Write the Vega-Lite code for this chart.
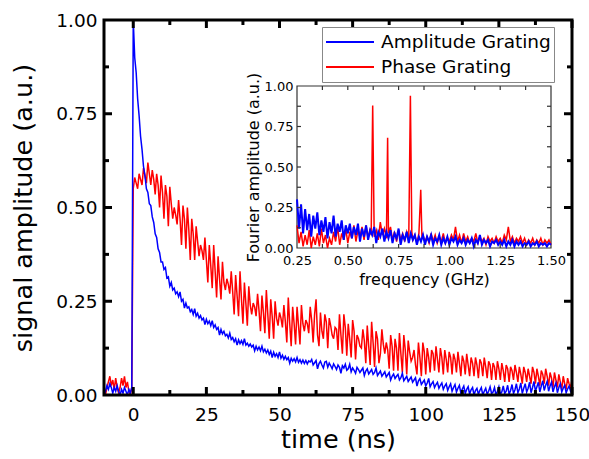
{
"$schema":"https://vega.github.io/schema/vega-lite/v6.json",
"autosize":"none",
"width":468,"height":375,
"padding":{"left":104,"top":20,"right":17,"bottom":64},
"background":"white",
"config":{"view":{"stroke":null},"font":"DejaVu Sans",
"axis":{"labelFont":"DejaVu Sans","titleFont":"DejaVu Sans","labelColor":"black","titleColor":"black","titleFontWeight":"normal","grid":false,"domain":false,"ticks":false,"labelFlush":false,"labelOverlap":false},
"tick":{"color":"black","opacity":1}},
"datasets":{
"xmaj":[{"v":0},{"v":25},{"v":50},{"v":75},{"v":100},{"v":125},{"v":150}],
"xmin":[{"v":12.5},{"v":37.5},{"v":62.5},{"v":87.5},{"v":112.5},{"v":137.5}],
"ymaj":[{"v":0.25},{"v":0.5},{"v":0.75}],
"ymin":[{"v":0.125},{"v":0.375},{"v":0.625},{"v":0.875}],
"fx":[{"v":0.375},{"v":0.5},{"v":0.625},{"v":0.75},{"v":0.875},{"v":1},{"v":1.125},{"v":1.25},{"v":1.375}],
"fy":[{"v":0.125},{"v":0.25},{"v":0.375},{"v":0.5},{"v":0.625},{"v":0.75},{"v":0.875}],
"main":[
{"t":-10,"a":0,"p":0.01},{"t":-9.5,"a":0.01,"p":0},{"t":-9,"a":0.025,"p":0.02},{"t":-8.5,"a":0.015,"p":0.035},{"t":-8,"a":0.03,"p":0.05},{"t":-7.5,"a":0.02,"p":0.025},{"t":-7,"a":0.005,"p":0.04},{"t":-6.5,"a":0.02,"p":0.015},{"t":-6,"a":0.01,"p":0.045},{"t":-5.5,"a":0.025,"p":0.02},{"t":-5,"a":0.01,"p":0.005},{"t":-4.5,"a":0,"p":0.02},{"t":-4,"a":0.015,"p":0.045},{"t":-3.5,"a":0.005,"p":0.025},{"t":-3,"a":0.02,"p":0.05},{"t":-2.5,"a":0.01,"p":0.02},{"t":-2,"a":0,"p":0.035},{"t":-1.5,"a":0.015,"p":0.01},{"t":-1,"a":0.005,"p":0},{"t":-0.5,"a":0.02,"p":0.02},
{"t":0,"a":1.0,"p":0.55},{"t":0.5,"a":0.9,"p":0.58},{"t":1,"a":0.86,"p":0.565},{"t":1.5,"a":0.79,"p":0.55},{"t":2,"a":0.745,"p":0.59},{"t":2.5,"a":0.69,"p":0.575},{"t":3,"a":0.655,"p":0.56},{"t":3.5,"a":0.61,"p":0.605},{"t":4,"a":0.585,"p":0.585},{"t":4.5,"a":0.55,"p":0.565},{"t":5,"a":0.54,"p":0.62},{"t":5.5,"a":0.51,"p":0.59},{"t":6,"a":0.505,"p":0.56},{"t":6.5,"a":0.475,"p":0.6},{"t":7,"a":0.46,"p":0.575},{"t":7.5,"a":0.43,"p":0.535},{"t":8,"a":0.42,"p":0.59},{"t":8.5,"a":0.39,"p":0.56},{"t":9,"a":0.38,"p":0.5},{"t":9.5,"a":0.355,"p":0.585},
{"t":10,"a":0.355,"p":0.54},{"t":10.5,"a":0.335,"p":0.47},{"t":11,"a":0.34,"p":0.56},{"t":11.5,"a":0.312,"p":0.53},{"t":12,"a":0.315,"p":0.45},{"t":12.5,"a":0.29,"p":0.555},{"t":13,"a":0.3,"p":0.51},{"t":13.5,"a":0.28,"p":0.47},{"t":14,"a":0.285,"p":0.5},{"t":14.5,"a":0.27,"p":0.48},{"t":15,"a":0.275,"p":0.455},{"t":15.5,"a":0.262,"p":0.52},{"t":16,"a":0.275,"p":0.47},{"t":16.5,"a":0.25,"p":0.4},{"t":17,"a":0.255,"p":0.505},{"t":17.5,"a":0.232,"p":0.47},{"t":18,"a":0.245,"p":0.39},{"t":18.5,"a":0.232,"p":0.5},{"t":19,"a":0.235,"p":0.44},{"t":19.5,"a":0.222,"p":0.36},
{"t":20,"a":0.228,"p":0.47},{"t":20.5,"a":0.215,"p":0.43},{"t":21,"a":0.23,"p":0.36},{"t":21.5,"a":0.21,"p":0.45},{"t":22,"a":0.218,"p":0.41},{"t":22.5,"a":0.205,"p":0.37},{"t":23,"a":0.212,"p":0.4},{"t":23.5,"a":0.2,"p":0.385},{"t":24,"a":0.205,"p":0.36},{"t":24.5,"a":0.188,"p":0.42},{"t":25,"a":0.202,"p":0.36},{"t":25.5,"a":0.19,"p":0.3},{"t":26,"a":0.197,"p":0.4},{"t":26.5,"a":0.185,"p":0.345},{"t":27,"a":0.198,"p":0.285},{"t":27.5,"a":0.18,"p":0.4},{"t":28,"a":0.187,"p":0.33},{"t":28.5,"a":0.175,"p":0.26},{"t":29,"a":0.18,"p":0.37},{"t":29.5,"a":0.16,"p":0.31},
{"t":30,"a":0.175,"p":0.255},{"t":30.5,"a":0.163,"p":0.355},{"t":31,"a":0.17,"p":0.3},{"t":31.5,"a":0.158,"p":0.28},{"t":32,"a":0.162,"p":0.31},{"t":32.5,"a":0.152,"p":0.295},{"t":33,"a":0.165,"p":0.27},{"t":33.5,"a":0.148,"p":0.33},{"t":34,"a":0.153,"p":0.275},{"t":34.5,"a":0.142,"p":0.215},{"t":35,"a":0.15,"p":0.32},{"t":35.5,"a":0.133,"p":0.265},{"t":36,"a":0.147,"p":0.21},{"t":36.5,"a":0.137,"p":0.33},{"t":37,"a":0.145,"p":0.255},{"t":37.5,"a":0.135,"p":0.19},{"t":38,"a":0.15,"p":0.3},{"t":38.5,"a":0.133,"p":0.245},{"t":39,"a":0.138,"p":0.185},{"t":39.5,"a":0.13,"p":0.29},
{"t":40,"a":0.136,"p":0.24},{"t":40.5,"a":0.128,"p":0.215},{"t":41,"a":0.133,"p":0.245},{"t":41.5,"a":0.118,"p":0.235},{"t":42,"a":0.13,"p":0.21},{"t":42.5,"a":0.12,"p":0.27},{"t":43,"a":0.128,"p":0.225},{"t":43.5,"a":0.118,"p":0.17},{"t":44,"a":0.13,"p":0.265},{"t":44.5,"a":0.115,"p":0.22},{"t":45,"a":0.122,"p":0.165},{"t":45.5,"a":0.112,"p":0.28},{"t":46,"a":0.12,"p":0.215},{"t":46.5,"a":0.108,"p":0.15},{"t":47,"a":0.117,"p":0.255},{"t":47.5,"a":0.1,"p":0.21},{"t":48,"a":0.114,"p":0.15},{"t":48.5,"a":0.103,"p":0.25},{"t":49,"a":0.11,"p":0.205},{"t":49.5,"a":0.1,"p":0.185},
{"t":50,"a":0.115,"p":0.22},{"t":50.5,"a":0.098,"p":0.205},{"t":51,"a":0.106,"p":0.18},{"t":51.5,"a":0.095,"p":0.24},{"t":52,"a":0.103,"p":0.195},{"t":52.5,"a":0.094,"p":0.14},{"t":53,"a":0.1,"p":0.26},{"t":53.5,"a":0.085,"p":0.19},{"t":54,"a":0.098,"p":0.13},{"t":54.5,"a":0.09,"p":0.235},{"t":55,"a":0.097,"p":0.19},{"t":55.5,"a":0.088,"p":0.135},{"t":56,"a":0.1,"p":0.235},{"t":56.5,"a":0.087,"p":0.185},{"t":57,"a":0.094,"p":0.135},{"t":57.5,"a":0.085,"p":0.24},{"t":58,"a":0.093,"p":0.19},{"t":58.5,"a":0.084,"p":0.17},{"t":59,"a":0.092,"p":0.2},{"t":59.5,"a":0.083,"p":0.19},
{"t":60,"a":0.091,"p":0.165},{"t":60.5,"a":0.088,"p":0.235},{"t":61,"a":0.095,"p":0.2},{"t":61.5,"a":0.08,"p":0.14},{"t":62,"a":0.086,"p":0.215},{"t":62.5,"a":0.092,"p":0.255},{"t":63,"a":0.07,"p":0.16},{"t":63.5,"a":0.084,"p":0.13},{"t":64,"a":0.09,"p":0.22},{"t":64.5,"a":0.08,"p":0.17},{"t":65,"a":0.072,"p":0.15},{"t":65.5,"a":0.088,"p":0.215},{"t":66,"a":0.09,"p":0.195},{"t":66.5,"a":0.074,"p":0.125},{"t":67,"a":0.085,"p":0.205},{"t":67.5,"a":0.078,"p":0.185},{"t":68,"a":0.07,"p":0.16},{"t":68.5,"a":0.083,"p":0.15},{"t":69,"a":0.076,"p":0.18},{"t":69.5,"a":0.068,"p":0.175},
{"t":70,"a":0.08,"p":0.12},{"t":70.5,"a":0.074,"p":0.215},{"t":71,"a":0.058,"p":0.16},{"t":71.5,"a":0.078,"p":0.11},{"t":72,"a":0.072,"p":0.215},{"t":72.5,"a":0.082,"p":0.18},{"t":73,"a":0.066,"p":0.105},{"t":73.5,"a":0.07,"p":0.19},{"t":74,"a":0.082,"p":0.15},{"t":74.5,"a":0.062,"p":0.1},{"t":75,"a":0.072,"p":0.2},{"t":75.5,"a":0.066,"p":0.17},{"t":76,"a":0.058,"p":0.095},{"t":76.5,"a":0.074,"p":0.16},{"t":77,"a":0.068,"p":0.15},{"t":77.5,"a":0.06,"p":0.13},{"t":78,"a":0.066,"p":0.125},{"t":78.5,"a":0.072,"p":0.175},{"t":79,"a":0.052,"p":0.145},{"t":79.5,"a":0.064,"p":0.085},
{"t":80,"a":0.07,"p":0.185},{"t":80.5,"a":0.056,"p":0.13},{"t":81,"a":0.062,"p":0.08},{"t":81.5,"a":0.068,"p":0.195},{"t":82,"a":0.055,"p":0.14},{"t":82.5,"a":0.06,"p":0.075},{"t":83,"a":0.072,"p":0.17},{"t":83.5,"a":0.052,"p":0.15},{"t":84,"a":0.058,"p":0.085},{"t":84.5,"a":0.064,"p":0.11},{"t":85,"a":0.05,"p":0.175},{"t":85.5,"a":0.056,"p":0.135},{"t":86,"a":0.062,"p":0.11},{"t":86.5,"a":0.048,"p":0.14},{"t":87,"a":0.054,"p":0.12},{"t":87.5,"a":0.06,"p":0.07},{"t":88,"a":0.04,"p":0.16},{"t":88.5,"a":0.05,"p":0.13},{"t":89,"a":0.056,"p":0.065},{"t":89.5,"a":0.044,"p":0.15},
{"t":90,"a":0.05,"p":0.125},{"t":90.5,"a":0.055,"p":0.065},{"t":91,"a":0.04,"p":0.165},{"t":91.5,"a":0.046,"p":0.11},{"t":92,"a":0.058,"p":0.06},{"t":92.5,"a":0.038,"p":0.16},{"t":93,"a":0.044,"p":0.12},{"t":93.5,"a":0.05,"p":0.055},{"t":94,"a":0.036,"p":0.145},{"t":94.5,"a":0.042,"p":0.115},{"t":95,"a":0.048,"p":0.09},{"t":95.5,"a":0.034,"p":0.1},{"t":96,"a":0.04,"p":0.12},{"t":96.5,"a":0.046,"p":0.08},{"t":97,"a":0.024,"p":0.055},{"t":97.5,"a":0.038,"p":0.14},{"t":98,"a":0.044,"p":0.1},{"t":98.5,"a":0.028,"p":0.05},{"t":99,"a":0.034,"p":0.14},{"t":99.5,"a":0.04,"p":0.115},
{"t":100,"a":0.024,"p":0.055},{"t":100.5,"a":0.032,"p":0.125},{"t":101,"a":0.044,"p":0.1},{"t":101.5,"a":0.022,"p":0.06},{"t":102,"a":0.03,"p":0.12},{"t":102.5,"a":0.036,"p":0.11},{"t":103,"a":0.02,"p":0.065},{"t":103.5,"a":0.028,"p":0.13},{"t":104,"a":0.034,"p":0.095},{"t":104.5,"a":0.018,"p":0.06},{"t":105,"a":0.026,"p":0.125},{"t":105.5,"a":0.032,"p":0.1},{"t":106,"a":0.015,"p":0.055},{"t":106.5,"a":0.024,"p":0.12},{"t":107,"a":0.03,"p":0.095},{"t":107.5,"a":0.012,"p":0.06},{"t":108,"a":0.022,"p":0.115},{"t":108.5,"a":0.03,"p":0.1},{"t":109,"a":0.01,"p":0.055},{"t":109.5,"a":0.02,"p":0.11},
{"t":110,"a":0.028,"p":0.095},{"t":110.5,"a":0.008,"p":0.06},{"t":111,"a":0.018,"p":0.115},{"t":111.5,"a":0.026,"p":0.085},{"t":112,"a":0.005,"p":0.05},{"t":112.5,"a":0.016,"p":0.105},{"t":113,"a":0.024,"p":0.09},{"t":113.5,"a":0.004,"p":0.055},{"t":114,"a":0.015,"p":0.11},{"t":114.5,"a":0.022,"p":0.08},{"t":115,"a":0.002,"p":0.05},{"t":115.5,"a":0.014,"p":0.1},{"t":116,"a":0.02,"p":0.085},{"t":116.5,"a":0,"p":0.05},{"t":117,"a":0.012,"p":0.1},{"t":117.5,"a":0.018,"p":0.08},{"t":118,"a":0.002,"p":0.045},{"t":118.5,"a":0.012,"p":0.095},{"t":119,"a":0.02,"p":0.085},{"t":119.5,"a":0,"p":0.05},
{"t":120,"a":0.01,"p":0.1},{"t":120.5,"a":0.018,"p":0.075},{"t":121,"a":0.002,"p":0.045},{"t":121.5,"a":0.01,"p":0.09},{"t":122,"a":0.022,"p":0.08},{"t":122.5,"a":0.004,"p":0.04},{"t":123,"a":0.008,"p":0.085},{"t":123.5,"a":0.02,"p":0.075},{"t":124,"a":0,"p":0.04},{"t":124.5,"a":0.01,"p":0.09},{"t":125,"a":0.022,"p":0.07},{"t":125.5,"a":0.002,"p":0.04},{"t":126,"a":0.008,"p":0.085},{"t":126.5,"a":0.024,"p":0.065},{"t":127,"a":0.004,"p":0.035},{"t":127.5,"a":0.01,"p":0.08},{"t":128,"a":0.026,"p":0.07},{"t":128.5,"a":0.002,"p":0.035},{"t":129,"a":0.012,"p":0.075},{"t":129.5,"a":0.028,"p":0.065},
{"t":130,"a":0.004,"p":0.04},{"t":130.5,"a":0.014,"p":0.08},{"t":131,"a":0.03,"p":0.06},{"t":131.5,"a":0.006,"p":0.035},{"t":132,"a":0.016,"p":0.075},{"t":132.5,"a":0.032,"p":0.055},{"t":133,"a":0.004,"p":0.03},{"t":133.5,"a":0.018,"p":0.075},{"t":134,"a":0.03,"p":0.06},{"t":134.5,"a":0.008,"p":0.035},{"t":135,"a":0.018,"p":0.07},{"t":135.5,"a":0.034,"p":0.05},{"t":136,"a":0.006,"p":0.03},{"t":136.5,"a":0.02,"p":0.075},{"t":137,"a":0.036,"p":0.06},{"t":137.5,"a":0.01,"p":0.03},{"t":138,"a":0.022,"p":0.07},{"t":138.5,"a":0.034,"p":0.05},{"t":139,"a":0.008,"p":0.025},{"t":139.5,"a":0.024,"p":0.065},
{"t":140,"a":0.038,"p":0.055},{"t":140.5,"a":0.012,"p":0.03},{"t":141,"a":0.026,"p":0.07},{"t":141.5,"a":0.036,"p":0.05},{"t":142,"a":0.01,"p":0.025},{"t":142.5,"a":0.024,"p":0.06},{"t":143,"a":0.034,"p":0.045},{"t":143.5,"a":0.008,"p":0.02},{"t":144,"a":0.022,"p":0.06},{"t":144.5,"a":0.032,"p":0.04},{"t":145,"a":0.006,"p":0.02},{"t":145.5,"a":0.02,"p":0.055},{"t":146,"a":0.03,"p":0.035},{"t":146.5,"a":0.008,"p":0.015},{"t":147,"a":0.018,"p":0.05},{"t":147.5,"a":0.026,"p":0.03},{"t":148,"a":0.006,"p":0.015},{"t":148.5,"a":0.016,"p":0.045},{"t":149,"a":0.024,"p":0.03},{"t":149.5,"a":0.01,"p":0.02},{"t":150,"a":0.018,"p":0.04}
],
"ia":[
{"f":0.25,"v":0.3},{"f":0.26,"v":0.12},{"f":0.27,"v":0.27},{"f":0.28,"v":0.09},{"f":0.29,"v":0.24},{"f":0.3,"v":0.11},{"f":0.31,"v":0.21},{"f":0.32,"v":0.07},{"f":0.33,"v":0.2},{"f":0.34,"v":0.12},{"f":0.35,"v":0.22},{"f":0.36,"v":0.08},{"f":0.37,"v":0.17},{"f":0.38,"v":0.1},{"f":0.39,"v":0.19},{"f":0.4,"v":0.06},{"f":0.41,"v":0.16},{"f":0.42,"v":0.09},{"f":0.43,"v":0.2},{"f":0.44,"v":0.07},{"f":0.45,"v":0.15},{"f":0.46,"v":0.1},{"f":0.47,"v":0.17},{"f":0.48,"v":0.05},{"f":0.49,"v":0.14},{"f":0.5,"v":0.09},{"f":0.51,"v":0.15},{"f":0.52,"v":0.06},{"f":0.53,"v":0.13},{"f":0.54,"v":0.08},{"f":0.55,"v":0.15},{"f":0.56,"v":0.04},{"f":0.57,"v":0.12},{"f":0.58,"v":0.07},{"f":0.59,"v":0.14},{"f":0.6,"v":0.05},{"f":0.61,"v":0.11},{"f":0.62,"v":0.08},{"f":0.63,"v":0.13},{"f":0.64,"v":0.03},{"f":0.65,"v":0.1},{"f":0.66,"v":0.07},{"f":0.67,"v":0.12},{"f":0.68,"v":0.04},{"f":0.69,"v":0.1},{"f":0.7,"v":0.06},{"f":0.71,"v":0.11},{"f":0.72,"v":0.03},{"f":0.73,"v":0.09},{"f":0.74,"v":0.06},{"f":0.75,"v":0.12},{"f":0.76,"v":0.02},{"f":0.77,"v":0.08},{"f":0.78,"v":0.05},{"f":0.79,"v":0.1},{"f":0.8,"v":0.03},{"f":0.81,"v":0.09},{"f":0.82,"v":0.05},{"f":0.83,"v":0.08},{"f":0.84,"v":0.02},{"f":0.85,"v":0.07},{"f":0.86,"v":0.04},{"f":0.87,"v":0.08},{"f":0.88,"v":0.02},{"f":0.89,"v":0.07},{"f":0.9,"v":0.04},{"f":0.91,"v":0.08},{"f":0.92,"v":0.02},{"f":0.93,"v":0.06},{"f":0.94,"v":0.04},{"f":0.95,"v":0.08},{"f":0.96,"v":0.02},{"f":0.97,"v":0.06},{"f":0.98,"v":0.03},{"f":0.99,"v":0.07},{"f":1.0,"v":0.02},{"f":1.01,"v":0.06},{"f":1.02,"v":0.04},{"f":1.03,"v":0.07},{"f":1.04,"v":0.02},{"f":1.05,"v":0.05},{"f":1.06,"v":0.03},{"f":1.07,"v":0.06},{"f":1.08,"v":0.02},{"f":1.09,"v":0.05},{"f":1.1,"v":0.03},{"f":1.11,"v":0.06},{"f":1.12,"v":0.01},{"f":1.13,"v":0.05},{"f":1.14,"v":0.03},{"f":1.15,"v":0.08},{"f":1.16,"v":0.02},{"f":1.17,"v":0.05},{"f":1.18,"v":0.03},{"f":1.19,"v":0.05},{"f":1.2,"v":0.01},{"f":1.21,"v":0.04},{"f":1.22,"v":0.03},{"f":1.23,"v":0.05},{"f":1.24,"v":0.02},{"f":1.25,"v":0.04},{"f":1.26,"v":0.02},{"f":1.27,"v":0.05},{"f":1.28,"v":0.01},{"f":1.29,"v":0.04},{"f":1.3,"v":0.02},{"f":1.31,"v":0.05},{"f":1.32,"v":0.01},{"f":1.33,"v":0.04},{"f":1.34,"v":0.02},{"f":1.35,"v":0.04},{"f":1.36,"v":0.01},{"f":1.37,"v":0.03},{"f":1.38,"v":0.02},{"f":1.39,"v":0.04},{"f":1.4,"v":0.01},{"f":1.41,"v":0.03},{"f":1.42,"v":0.02},{"f":1.43,"v":0.04},{"f":1.44,"v":0.01},{"f":1.45,"v":0.03},{"f":1.46,"v":0.02},{"f":1.47,"v":0.03},{"f":1.48,"v":0.01},{"f":1.49,"v":0.03},{"f":1.5,"v":0.02}
],
"ip":[
{"f":0.25,"v":0.14},{"f":0.26,"v":0.03},{"f":0.27,"v":0.1},{"f":0.28,"v":0.01},{"f":0.29,"v":0.08},{"f":0.3,"v":0.02},{"f":0.31,"v":0.11},{"f":0.32,"v":0},{"f":0.33,"v":0.07},{"f":0.34,"v":0.02},{"f":0.35,"v":0.09},{"f":0.36,"v":0.01},{"f":0.37,"v":0.12},{"f":0.38,"v":0.03},{"f":0.39,"v":0.08},{"f":0.4,"v":0},{"f":0.41,"v":0.06},{"f":0.42,"v":0.02},{"f":0.43,"v":0.1},{"f":0.44,"v":0.04},{"f":0.45,"v":0.13},{"f":0.46,"v":0.02},{"f":0.47,"v":0.09},{"f":0.48,"v":0.05},{"f":0.49,"v":0.12},{"f":0.5,"v":0.03},{"f":0.51,"v":0.1},{"f":0.52,"v":0.06},{"f":0.53,"v":0.14},{"f":0.54,"v":0.04},{"f":0.55,"v":0.11},{"f":0.56,"v":0.07},{"f":0.57,"v":0.13},{"f":0.58,"v":0.05},{"f":0.59,"v":0.14},{"f":0.6,"v":0.06},{"f":0.61,"v":0.12},{"f":0.615,"v":0.08},{"f":0.6225,"v":0.88},{"f":0.63,"v":0.07},{"f":0.64,"v":0.11},{"f":0.65,"v":0.05},{"f":0.66,"v":0.16},{"f":0.67,"v":0.08},{"f":0.68,"v":0.12},{"f":0.69,"v":0.06},{"f":0.696,"v":0.68},{"f":0.7,"v":0.09},{"f":0.71,"v":0.13},{"f":0.72,"v":0.05},{"f":0.73,"v":0.1},{"f":0.74,"v":0.04},{"f":0.75,"v":0.11},{"f":0.76,"v":0.05},{"f":0.77,"v":0.09},{"f":0.78,"v":0.04},{"f":0.79,"v":0.1},{"f":0.8,"v":0.06},{"f":0.808,"v":0.94},{"f":0.815,"v":0.1},{"f":0.82,"v":0.05},{"f":0.83,"v":0.08},{"f":0.84,"v":0.03},{"f":0.85,"v":0.09},{"f":0.859,"v":0.36},{"f":0.865,"v":0.06},{"f":0.87,"v":0.08},{"f":0.88,"v":0.04},{"f":0.89,"v":0.07},{"f":0.9,"v":0.03},{"f":0.91,"v":0.09},{"f":0.92,"v":0.04},{"f":0.93,"v":0.08},{"f":0.94,"v":0.03},{"f":0.95,"v":0.07},{"f":0.96,"v":0.04},{"f":0.97,"v":0.09},{"f":0.98,"v":0.03},{"f":0.99,"v":0.06},{"f":1.0,"v":0.04},{"f":1.01,"v":0.08},{"f":1.02,"v":0.05},{"f":1.03,"v":0.13},{"f":1.04,"v":0.04},{"f":1.05,"v":0.08},{"f":1.06,"v":0.03},{"f":1.07,"v":0.09},{"f":1.08,"v":0.04},{"f":1.09,"v":0.07},{"f":1.1,"v":0.03},{"f":1.11,"v":0.06},{"f":1.12,"v":0.04},{"f":1.13,"v":0.09},{"f":1.14,"v":0.03},{"f":1.15,"v":0.07},{"f":1.16,"v":0.04},{"f":1.17,"v":0.06},{"f":1.18,"v":0.02},{"f":1.19,"v":0.07},{"f":1.2,"v":0.04},{"f":1.21,"v":0.06},{"f":1.22,"v":0.03},{"f":1.23,"v":0.07},{"f":1.24,"v":0.04},{"f":1.25,"v":0.06},{"f":1.26,"v":0.03},{"f":1.27,"v":0.08},{"f":1.28,"v":0.05},{"f":1.29,"v":0.13},{"f":1.3,"v":0.04},{"f":1.31,"v":0.07},{"f":1.32,"v":0.03},{"f":1.33,"v":0.06},{"f":1.34,"v":0.04},{"f":1.35,"v":0.07},{"f":1.36,"v":0.03},{"f":1.37,"v":0.06},{"f":1.38,"v":0.02},{"f":1.39,"v":0.05},{"f":1.4,"v":0.03},{"f":1.41,"v":0.06},{"f":1.42,"v":0.02},{"f":1.43,"v":0.05},{"f":1.44,"v":0.03},{"f":1.45,"v":0.06},{"f":1.46,"v":0.02},{"f":1.47,"v":0.05},{"f":1.48,"v":0.03},{"f":1.49,"v":0.05},{"f":1.5,"v":0.02}
]
},
"resolve":{"scale":{"x":"independent","y":"independent"}},
"layer":[
{"data":{"name":"main"},
 "mark":{"type":"line","strokeWidth":1.5,"clip":true},
 "encoding":{
  "x":{"field":"t","type":"quantitative","scale":{"domain":[-10,150],"nice":false,"zero":false},
   "axis":{"orient":"bottom","values":[0,25,50,75,100,125,150],"labelFontSize":18.5,"labelPadding":10,"title":"time (ns)","titleFontSize":25.5,"titlePadding":4}},
  "y":{"field":"p","type":"quantitative","scale":{"domain":[0,1],"nice":false},
   "axis":{"orient":"left","values":[0,0.25,0.5,0.75,1],"format":".2f","labelFontSize":18.5,"labelPadding":7,"title":"signal amplitude (a.u.)","titleFontSize":25.5,"titlePadding":19}},
  "color":{"datum":"Phase Grating","scale":{"domain":["Amplitude Grating","Phase Grating"],"range":["#0000ff","#ff0000"]},
   "legend":{"orient":"none","legendX":218,"legendY":7,"title":null,"symbolType":"stroke","symbolSize":2304,"symbolStrokeWidth":2,"labelFontSize":18.5,"labelFont":"DejaVu Sans","labelColor":"black","labelLimit":400,"clipHeight":24,"fillColor":"white","strokeColor":"#888888","padding":3,"rowPadding":1,"labelOffset":6}}
 }},
{"data":{"name":"main"},
 "mark":{"type":"line","strokeWidth":1.5,"clip":true},
 "encoding":{
  "x":{"field":"t","type":"quantitative","scale":{"domain":[-10,150],"nice":false,"zero":false},"axis":null},
  "y":{"field":"a","type":"quantitative","scale":{"domain":[0,1],"nice":false},"axis":null},
  "color":{"datum":"Amplitude Grating"}
 }},
{"data":{"values":[{}]},
 "mark":{"type":"rect","fill":null,"fillOpacity":0,"stroke":"black","strokeWidth":3},
 "encoding":{
  "x":{"datum":-10,"type":"quantitative","scale":{"domain":[-10,150],"nice":false,"zero":false},"axis":null},
  "x2":{"datum":150},
  "y":{"datum":0,"type":"quantitative","scale":{"domain":[0,1],"nice":false},"axis":null},
  "y2":{"datum":1}
 }},
{"data":{"name":"xmaj"},"mark":{"type":"tick","orient":"vertical","size":8,"thickness":3,"yOffset":-4,"color":"black"},
 "encoding":{"x":{"field":"v","type":"quantitative","scale":{"domain":[-10,150],"nice":false,"zero":false},"axis":null},
  "y":{"datum":0,"type":"quantitative","scale":{"domain":[0,1],"nice":false},"axis":null}}},
{"data":{"name":"xmin"},"mark":{"type":"tick","orient":"vertical","size":5,"thickness":3,"yOffset":-2.5,"color":"black"},
 "encoding":{"x":{"field":"v","type":"quantitative","scale":{"domain":[-10,150],"nice":false,"zero":false},"axis":null},
  "y":{"datum":0,"type":"quantitative","scale":{"domain":[0,1],"nice":false},"axis":null}}},
{"data":{"name":"xmaj"},"mark":{"type":"tick","orient":"vertical","size":8,"thickness":3,"yOffset":4,"color":"black"},
 "encoding":{"x":{"field":"v","type":"quantitative","scale":{"domain":[-10,150],"nice":false,"zero":false},"axis":null},
  "y":{"datum":1,"type":"quantitative","scale":{"domain":[0,1],"nice":false},"axis":null}}},
{"data":{"name":"xmin"},"mark":{"type":"tick","orient":"vertical","size":5,"thickness":3,"yOffset":2.5,"color":"black"},
 "encoding":{"x":{"field":"v","type":"quantitative","scale":{"domain":[-10,150],"nice":false,"zero":false},"axis":null},
  "y":{"datum":1,"type":"quantitative","scale":{"domain":[0,1],"nice":false},"axis":null}}},
{"data":{"name":"ymaj"},"mark":{"type":"tick","orient":"horizontal","size":8,"thickness":3,"xOffset":4,"color":"black"},
 "encoding":{"y":{"field":"v","type":"quantitative","scale":{"domain":[0,1],"nice":false},"axis":null},
  "x":{"datum":-10,"type":"quantitative","scale":{"domain":[-10,150],"nice":false,"zero":false},"axis":null}}},
{"data":{"name":"ymin"},"mark":{"type":"tick","orient":"horizontal","size":5,"thickness":3,"xOffset":2.5,"color":"black"},
 "encoding":{"y":{"field":"v","type":"quantitative","scale":{"domain":[0,1],"nice":false},"axis":null},
  "x":{"datum":-10,"type":"quantitative","scale":{"domain":[-10,150],"nice":false,"zero":false},"axis":null}}},
{"data":{"name":"ymaj"},"mark":{"type":"tick","orient":"horizontal","size":8,"thickness":3,"xOffset":-4,"color":"black"},
 "encoding":{"y":{"field":"v","type":"quantitative","scale":{"domain":[0,1],"nice":false},"axis":null},
  "x":{"datum":150,"type":"quantitative","scale":{"domain":[-10,150],"nice":false,"zero":false},"axis":null}}},
{"data":{"name":"ymin"},"mark":{"type":"tick","orient":"horizontal","size":5,"thickness":3,"xOffset":-2.5,"color":"black"},
 "encoding":{"y":{"field":"v","type":"quantitative","scale":{"domain":[0,1],"nice":false},"axis":null},
  "x":{"datum":150,"type":"quantitative","scale":{"domain":[-10,150],"nice":false,"zero":false},"axis":null}}},
{"data":{"values":[{}]},
 "mark":{"type":"rect","fill":"white","stroke":"#333333","strokeWidth":1.2},
 "encoding":{
  "x":{"datum":0.25,"type":"quantitative","scale":{"domain":[0.25,1.5],"range":[193,447],"nice":false,"zero":false},
   "axis":{"orient":"bottom","offset":-147,"values":[0.25,0.5,0.75,1,1.25,1.5],"format":".2f","labelFontSize":13,"labelPadding":6,"title":"frequency (GHz)","titleFontSize":16,"titlePadding":4}},
  "x2":{"datum":1.5},
  "y":{"datum":0,"type":"quantitative","scale":{"domain":[0,1],"range":[228,66],"nice":false},
   "axis":{"orient":"left","offset":-193,"values":[0,0.25,0.5,0.75,1],"format":".2f","labelFontSize":13,"labelPadding":4,"title":"Fourier amplitude (a.u.)","titleFontSize":16,"titlePadding":3}},
  "y2":{"datum":1}
 }},
{"data":{"name":"ip"},
 "mark":{"type":"line","strokeWidth":1.5,"clip":true},
 "encoding":{
  "x":{"field":"f","type":"quantitative","scale":{"domain":[0.25,1.5],"range":[193,447],"nice":false,"zero":false},"axis":null},
  "y":{"field":"v","type":"quantitative","scale":{"domain":[0,1],"range":[228,66],"nice":false},"axis":null},
  "color":{"datum":"Phase Grating"}
 }},
{"data":{"name":"ia"},
 "mark":{"type":"line","strokeWidth":2,"clip":true},
 "encoding":{
  "x":{"field":"f","type":"quantitative","scale":{"domain":[0.25,1.5],"range":[193,447],"nice":false,"zero":false},"axis":null},
  "y":{"field":"v","type":"quantitative","scale":{"domain":[0,1],"range":[228,66],"nice":false},"axis":null},
  "color":{"datum":"Amplitude Grating"}
 }},
{"data":{"name":"fx"},"mark":{"type":"tick","orient":"vertical","size":4,"thickness":1.2,"color":"#333333","yOffset":-2},
 "encoding":{"x":{"field":"v","type":"quantitative","scale":{"domain":[0.25,1.5],"range":[193,447],"nice":false,"zero":false},"axis":null},
  "y":{"datum":0,"type":"quantitative","scale":{"domain":[0,1],"range":[228,66],"nice":false},"axis":null}}},
{"data":{"name":"fx"},"mark":{"type":"tick","orient":"vertical","size":4,"thickness":1.2,"color":"#333333","yOffset":2},
 "encoding":{"x":{"field":"v","type":"quantitative","scale":{"domain":[0.25,1.5],"range":[193,447],"nice":false,"zero":false},"axis":null},
  "y":{"datum":1,"type":"quantitative","scale":{"domain":[0,1],"range":[228,66],"nice":false},"axis":null}}},
{"data":{"name":"fy"},"mark":{"type":"tick","orient":"horizontal","size":4,"thickness":1.2,"color":"#333333","xOffset":2},
 "encoding":{"y":{"field":"v","type":"quantitative","scale":{"domain":[0,1],"range":[228,66],"nice":false},"axis":null},
  "x":{"datum":0.25,"type":"quantitative","scale":{"domain":[0.25,1.5],"range":[193,447],"nice":false,"zero":false},"axis":null}}},
{"data":{"name":"fy"},"mark":{"type":"tick","orient":"horizontal","size":4,"thickness":1.2,"color":"#333333","xOffset":-2},
 "encoding":{"y":{"field":"v","type":"quantitative","scale":{"domain":[0,1],"range":[228,66],"nice":false},"axis":null},
  "x":{"datum":1.5,"type":"quantitative","scale":{"domain":[0.25,1.5],"range":[193,447],"nice":false,"zero":false},"axis":null}}}
]
}
